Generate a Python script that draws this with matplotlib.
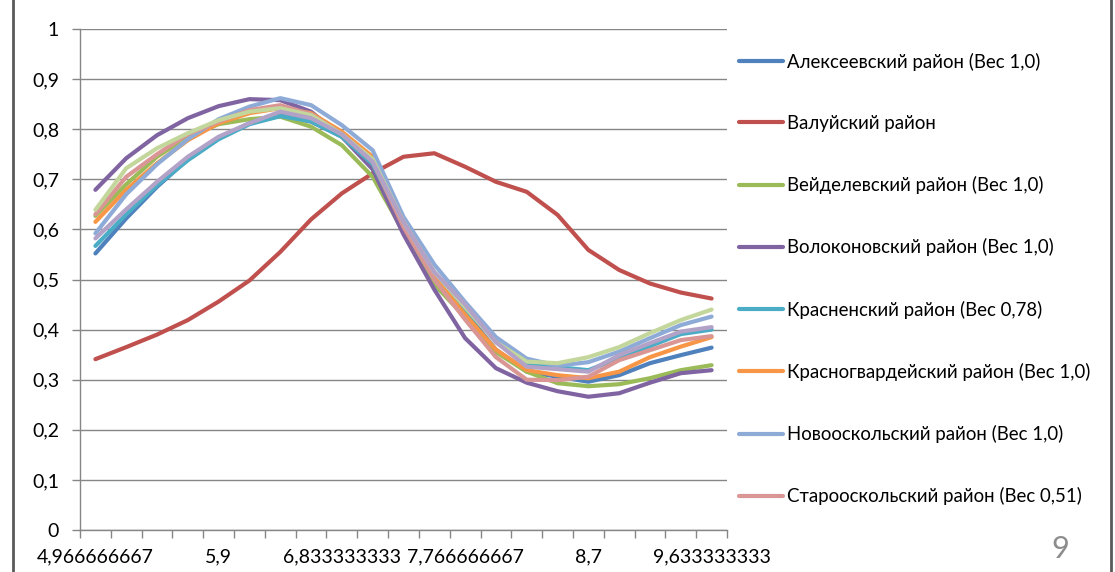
import matplotlib
matplotlib.use('Agg')
import matplotlib.pyplot as plt
from matplotlib.lines import Line2D
from matplotlib.ticker import FixedLocator

# ---------------- data ----------------
x_values = [4.966666667, 5.2, 5.433333333, 5.666666667, 5.9, 6.133333333,
            6.366666667, 6.6, 6.833333333, 7.066666667, 7.3, 7.533333333,
            7.766666667, 8.0, 8.233333333, 8.466666667, 8.7, 8.933333333,
            9.166666667, 9.4, 9.633333333]
x_tick_labels = ['4,966666667', '5,9', '6,833333333', '7,766666667', '8,7', '9,633333333']
y_ticks = [0, 0.1, 0.2, 0.3, 0.4, 0.5, 0.6, 0.7, 0.8, 0.9, 1.0]
y_tick_labels = ['0', '0,1', '0,2', '0,3', '0,4', '0,5', '0,6', '0,7', '0,8', '0,9', '1']

alekseevsky = [0.552, 0.622, 0.685, 0.740, 0.782, 0.812, 0.828, 0.815, 0.785, 0.735, 0.605,
               0.505, 0.435, 0.360, 0.316, 0.306, 0.296, 0.309, 0.333, 0.349, 0.364]
valuysky = [0.341, 0.365, 0.390, 0.419, 0.456, 0.498, 0.555, 0.620, 0.672, 0.712, 0.745,
            0.752, 0.725, 0.695, 0.675, 0.629, 0.559, 0.519, 0.492, 0.474, 0.462]
veydelevsky = [0.627, 0.690, 0.745, 0.785, 0.810, 0.820, 0.825, 0.805, 0.768, 0.705, 0.595,
               0.490, 0.425, 0.355, 0.316, 0.293, 0.287, 0.291, 0.303, 0.319, 0.329]
volokonovsky = [0.679, 0.742, 0.788, 0.822, 0.846, 0.860, 0.858, 0.835, 0.785, 0.720, 0.590,
                0.480, 0.383, 0.323, 0.294, 0.277, 0.266, 0.273, 0.294, 0.313, 0.319]
krasnensky = [0.567, 0.630, 0.688, 0.738, 0.780, 0.810, 0.826, 0.816, 0.785, 0.730, 0.610,
              0.510, 0.440, 0.380, 0.330, 0.325, 0.319, 0.343, 0.367, 0.391, 0.400]
krasnogvardeysky = [0.615, 0.679, 0.732, 0.778, 0.812, 0.832, 0.842, 0.832, 0.795, 0.745, 0.610,
                    0.505, 0.430, 0.360, 0.319, 0.309, 0.303, 0.316, 0.345, 0.366, 0.385]
novooskolsky = [0.592, 0.670, 0.730, 0.780, 0.820, 0.845, 0.862, 0.848, 0.808, 0.758, 0.625,
                0.530, 0.455, 0.385, 0.342, 0.328, 0.335, 0.356, 0.383, 0.409, 0.426]
starooskolsky = [0.630, 0.705, 0.750, 0.790, 0.815, 0.838, 0.848, 0.830, 0.790, 0.735, 0.605,
                 0.500, 0.420, 0.345, 0.300, 0.299, 0.306, 0.339, 0.359, 0.379, 0.387]
series9 = [0.639, 0.722, 0.762, 0.792, 0.818, 0.835, 0.842, 0.828, 0.790, 0.740, 0.615,
           0.515, 0.445, 0.375, 0.336, 0.333, 0.345, 0.365, 0.393, 0.419, 0.440]
series10 = [0.582, 0.640, 0.695, 0.745, 0.785, 0.812, 0.835, 0.822, 0.790, 0.735, 0.615,
            0.515, 0.450, 0.375, 0.326, 0.321, 0.316, 0.349, 0.373, 0.396, 0.405]

series_names = ['Алексеевский район (Вес 1,0)', 'Валуйский район',
                'Вейделевский район (Вес 1,0)', 'Волоконовский район (Вес 1,0)',
                'Красненский район (Вес 0,78)', 'Красногвардейский район (Вес 1,0)',
                'Новооскольский район (Вес 1,0)', 'Старооскольский район (Вес 0,51)',
                '_ряд 9', '_ряд 10']
series_values = [alekseevsky, valuysky, veydelevsky, volokonovsky, krasnensky,
                 krasnogvardeysky, novooskolsky, starooskolsky, series9, series10]
series_colors = ['#4F81BD', '#C0504D', '#9BBB59', '#8064A2', '#4BACC6', '#F79646',
                 '#8EABD8', '#D99694', '#C3D69B', '#B3A2C7']

# ---------------- figure ----------------
W, H = 1115, 572
FAM = ['Lato', 'DejaVu Sans']
plt.rcParams['font.family'] = FAM
fig = plt.figure(figsize=(W / 100, H / 100), dpi=100)
fig.patch.set_facecolor('white')


def fit_size(text, target_px):
    t = fig.text(0, 0, text, fontsize=10)
    fig.canvas.draw()
    w = t.get_window_extent().width
    t.remove()
    return 10 * target_px / w


fs_leg = fit_size(series_names[0], 254)
fs_tick = fit_size(x_tick_labels[0], 118)

left, right, top, bottom = 80, 727, 29, 530
ax = fig.add_axes([left / W, 1 - bottom / H, (right - left) / W, (bottom - top) / H])

pos = list(range(len(x_values)))
lines = []
for name, vals, col in zip(series_names, series_values, series_colors):
    ln, = ax.plot(pos, vals, color=col, lw=3.0, label=name,
                  solid_capstyle='round', solid_joinstyle='round')
    lines.append(ln)

ax.set_xlim(-0.5, len(x_values) - 0.5)
ax.set_ylim(0, 1)

gc = '#868686'
ax.set_yticks(y_ticks)
ax.set_yticklabels(y_tick_labels)
ax.yaxis.grid(True, color=gc, lw=1.0)
ax.set_axisbelow(True)

ax.set_xticks(pos[::4])
ax.set_xticklabels(x_tick_labels)
ax.xaxis.set_minor_locator(FixedLocator([p - 0.5 for p in pos] + [pos[-1] + 0.5]))
ax.tick_params(axis='x', which='major', length=0, pad=13, labelsize=fs_tick, labelcolor='black')
ax.tick_params(axis='x', which='minor', length=6, width=1, color=gc, direction='out')
ax.tick_params(axis='y', which='major', length=6, width=1, color=gc, pad=9,
               labelsize=fs_tick, labelcolor='black')

for s in ['top', 'right']:
    ax.spines[s].set_visible(False)
for s in ['left', 'bottom']:
    ax.spines[s].set_color(gc)
    ax.spines[s].set_linewidth(1.0)

fs_px = fs_leg * 100 / 72
leg = ax.legend(lines[:8], series_names[:8], loc='upper left',
                bbox_to_anchor=(739 / W, 1 - (64 - 0.62 * fs_px) / H),
                bbox_transform=fig.transFigure, frameon=False,
                borderpad=0, borderaxespad=0, fontsize=fs_leg,
                handlelength=44 / fs_px, handletextpad=4 / fs_px,
                labelspacing=(66.6 - 1.2 * fs_px) / fs_px)

# slide frame and page number
for xb in (13, 1111):
    fig.add_artist(Line2D([xb / W, xb / W], [0, 1], transform=fig.transFigure,
                          color='#5A5A5A', lw=2))
fig.text(1060 / W, 1 - 549 / H, '9', fontsize=22, color='#8C8C8C',
         ha='center', va='center')

fig.savefig('out.png', dpi=100, facecolor='white')
